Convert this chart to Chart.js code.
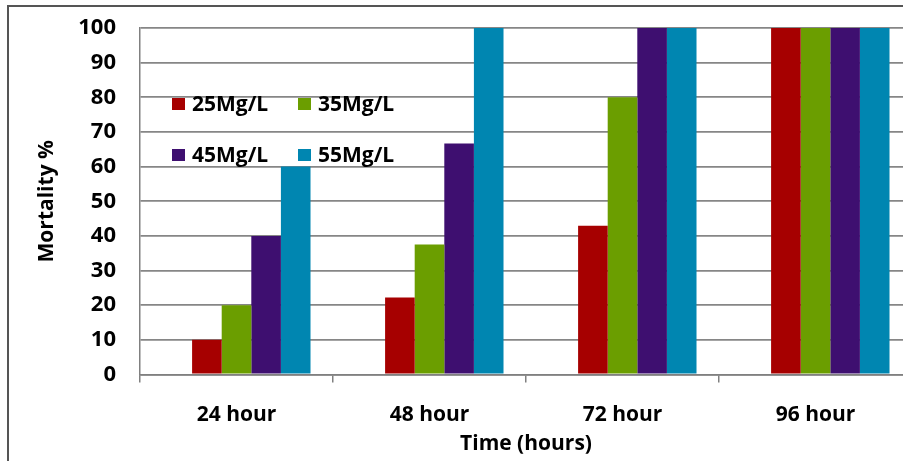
<!DOCTYPE html>
<html>
<head>
<meta charset="utf-8">
<title>Mortality % over time</title>
<script src="https://cdn.jsdelivr.net/npm/chart.js@4.4.1/dist/chart.umd.min.js"></script>
<style>
  html, body { margin: 0; padding: 0; background: #fff; overflow: hidden; }
  #wrap { position: absolute; left: 0; top: 0; width: 930px; height: 461px; }
</style>
</head>
<body>
<div id="wrap"><canvas id="chart" width="930" height="461"></canvas></div>
<script>
// Exposure times on the x axis
const times = ['24 hour', '48 hour', '72 hour', '96 hour'];

// Concentration series (mortality %)
const seriesNames = ['25Mg/L', '35Mg/L', '45Mg/L', '55Mg/L'];
const mg25 = [10, 22.2, 42.9, 100];
const mg35 = [20, 37.5, 80, 100];
const mg45 = [40, 66.7, 100, 100];
const mg55 = [60, 100, 100, 100];

// Empty leading series that keeps its slot in each group
const blank = [null, null, null, null];

// Y axis ticks
const yTicks = [0, 10, 20, 30, 40, 50, 60, 70, 80, 90, 100];

const seriesColors = ['#a60000', '#6b9e00', '#3e0f70', '#0086b1'];
const FONT = "'Open Sans'";

// Legend drawn as a 2x2 block inside the plot area
const boxLegend = {
  id: 'boxLegend',
  afterDraw(chart) {
    const { ctx, chartArea } = chart;
    const x0 = chartArea.left + 32, y0 = chartArea.top + 76;
    const colStep = 126, rowStep = 51;
    ctx.save();
    ctx.font = 'bold 21px ' + FONT;
    ctx.textBaseline = 'middle';
    ctx.textAlign = 'left';
    chart.data.datasets.forEach((ds, i) => {
      if (!ds.showInLegend) return;
      const k = i - 1;
      const x = x0 + (k % 2) * colStep;
      const y = y0 + Math.floor(k / 2) * rowStep;
      ctx.fillStyle = ds.backgroundColor;
      ctx.fillRect(x, y - 6, 13, 12);
      ctx.fillStyle = '#000';
      ctx.fillText(ds.label, x + 20, y + 1);
    });
    ctx.restore();
  }
};

// Outer frame around the figure
const frame = {
  id: 'frame',
  afterDraw(chart) {
    const { ctx } = chart;
    ctx.save();
    ctx.strokeStyle = '#555';
    ctx.lineWidth = 2;
    ctx.strokeRect(8, 6, 1000, 1000);
    ctx.restore();
  }
};

const datasets = [
  { label: '', data: blank, backgroundColor: '#fff', showInLegend: false },
  { label: seriesNames[0], data: mg25, backgroundColor: seriesColors[0], showInLegend: true },
  { label: seriesNames[1], data: mg35, backgroundColor: seriesColors[1], showInLegend: true },
  { label: seriesNames[2], data: mg45, backgroundColor: seriesColors[2], showInLegend: true },
  { label: seriesNames[3], data: mg55, backgroundColor: seriesColors[3], showInLegend: true }
];

new Chart(document.getElementById('chart'), {
  type: 'bar',
  data: { labels: times, datasets },
  plugins: [boxLegend, frame],
  options: {
    responsive: false,
    animation: false,
    layout: { padding: { left: 0, top: 28, right: 18, bottom: 0 } },
    datasets: { bar: { categoryPercentage: 0.767, barPercentage: 1, borderWidth: 0 } },
    plugins: { legend: { display: false }, tooltip: { enabled: false } },
    scales: {
      x: {
        offset: true,
        afterFit(scale) { scale.height = 86.5; scale.paddingLeft = 0; scale.paddingRight = 0; },
        grid: { drawOnChartArea: false, drawTicks: true, tickLength: 8, color: '#808080', lineWidth: 1.5 },
        border: { color: '#808080', width: 1.5 },
        ticks: { color: '#000', font: { family: FONT, size: 21, weight: 'bold' }, padding: 20, maxRotation: 0 },
        title: {
          display: true, text: 'Time (hours)', color: '#000',
          font: { family: FONT, size: 21, weight: 'bold' }, padding: { top: 0, bottom: 4 }
        }
      },
      y: {
        min: 0, max: 100,
        afterFit(scale) { scale.width = 140; scale.paddingTop = 0; scale.paddingBottom = 0; },
        afterBuildTicks(scale) { scale.ticks = yTicks.map(v => ({ value: v })); },
        grid: { drawTicks: false, color: '#868686', lineWidth: 1.8 },
        border: { color: '#808080', width: 1.5 },
        ticks: { color: '#000', font: { family: FONT, size: 22, weight: 'bold' }, padding: 24 },
        title: {
          display: true, text: 'Mortality %', color: '#000',
          font: { family: FONT, size: 21, weight: 'bold' }, padding: { top: 34, bottom: 0 }
        }
      }
    }
  }
});
</script>
</body>
</html>
